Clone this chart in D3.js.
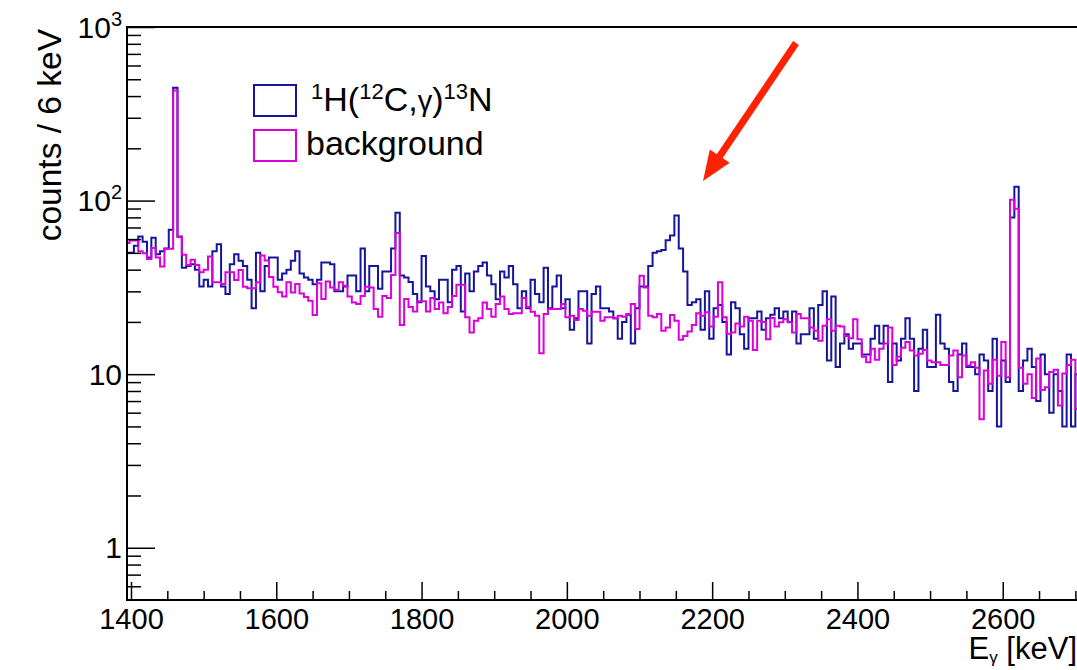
<!DOCTYPE html>
<html>
<head>
<meta charset="utf-8">
<script src="https://cdn.jsdelivr.net/npm/d3@7"></script>
<style>
  body { margin: 0; background: #fff; }
  svg { display: block; }
  text { font-family: "Liberation Sans", Arial, Helvetica, sans-serif; fill: #000; }
</style>
</head>
<body>
<svg id="chart" width="1077" height="670"></svg>
<script>
// Gamma spectrum, 6 keV bins; first bin starts at 1392 keV
const binWidth = 6;
const firstBinLow = 1392;

// 1H(12C,gamma)13N run, counts per bin
const signalCounts = [
  50,50,55,62,58,47,61,49,51,53,68,446,62,41,42,43,40,32,35,32,51,56,32,29,43,49,45,42,35,24,50,30,42,47,47,35,38,
  40,45,51,38,36,35,33,35,44,44,43,30,30,32,37,37,30,53,30,42,42,31,39,39,53,85,37,36,34,29,26,48,32,30,27,35,35,26,40,
  42,23,38,30,39,42,44,37,33,27,39,36,42,33,24,30,24,35,29,26,41,24,32,37,24,27,18,21,30,30,15,29,32,24,24,23,21,16,
  20,22,15,24,32,32,42,50,51,52,59,63,82,53,39,25,26,27,18,30,16,24,25,20,13,26,24,17,14,21,21,23,18,21,22,24,21,23,
  20,23,15,17,17,24,16,25,30,12,28,11,15,17,14,15,15,13,13,16,19,15,19,9,15,12,16,21,16,8,14,18,11,11,22,15,14,
  9,8,13,15,11,11,10,13,12,8,16,5,12,9,80,120,8,12,14,11,7,13,10,6,10,8,5,13,5,10
];

// Background run, same binning
const backgroundCounts = [
  57,58.8,58.8,51,49.7,46,53.4,47,41.7,52.7,52.7,430,61.6,48.8,42.5,45.6,42.5,38.6,40,47.7,33.8,33.8,33.1,38.6,38.6,34.9,39.8,31.9,31.3,31.3,33.8,48.2,45.1,36.3,31.9,29.6,28,
  33.8,29.5,33.1,29.2,27.8,26.5,21.9,33.4,27.1,34.2,31.6,30.6,33.8,32.3,28,25.9,25.4,28.2,31.9,31.6,23.7,21.4,28.2,27.5,37.3,65,19.2,27.1,24.4,23,26.3,26.3,23,27.5,23.7,25.9,22.4,24.4,28.2,
  32.7,32.7,21.3,17.4,20.3,21,25.9,23.7,21.4,25.4,28,23.7,22.2,22.4,22.4,27.5,24.4,22.9,21.7,13.2,22.2,23.7,23.7,23.7,25.4,21.3,21.7,20.5,23.7,23.2,21.7,22.9,22.9,20.3,21.3,21.3,21,21.7,
  21.4,22.2,25.4,18.2,36.9,31.6,21.7,21.3,22.2,17.8,18.6,21.9,20.3,15.8,16.6,17.6,19.2,22.4,21.7,22.7,18.8,21.4,33.8,21.3,17.1,17.4,19.6,18.8,21.4,20.3,13.8,20.3,20,15.9,21.1,18.8,19.9,20.7,
  19.9,17.4,22.2,21,21,18.6,17.8,15.6,19,20.7,17.8,19,18.8,16.6,16.1,20.7,15.9,12.6,11.7,14,12.1,14,15,18.6,11.3,12.6,14.2,15.3,13.7,12.8,13.1,13.8,12,11.7,11.7,11.3,11.3,
  12.8,13.7,9.6,12.8,11.2,11.7,10.9,5.5,10.5,8.8,12.1,9.8,15.3,9.6,101,89.6,10.9,8.8,10,7.3,12.3,8.1,8.4,10.3,10.6,6.6,10.1,11.3,12.1,6.3
];

// Axis ticks and labels
const xMajorTicks = [1400, 1600, 1800, 2000, 2200, 2400, 2600];
const xMinorStep = 50;
const yMajorTicks = [1, 10, 100, 1000];
const yTickBases = ["1", "10", "10", "10"];
const yTickExponents = ["", "", "2", "3"];
const xTitle = ["E", "\u03b3", " [keV]"];
const yTitle = "counts / 6 keV";

const legendEntries = ["signal", "background"];
const seriesColors = { signal: "#16169c", background: "#dc00dc" };

// ---------------------------------------------------------------
const svg = d3.select("#chart");
const frame = { left: 127, top: 27, right: 1079, bottom: 600 };

const x = d3.scaleLinear().domain([1394.5, 2705]).range([frame.left, frame.right]);
const y = d3.scaleLog().domain([0.5, 1000]).range([frame.bottom, frame.top]);

svg.append("defs").append("clipPath").attr("id", "plotClip")
  .append("rect")
  .attr("x", frame.left).attr("y", frame.top)
  .attr("width", frame.right - frame.left).attr("height", frame.bottom - frame.top);

// step outline of a histogram
function stepPoints(counts) {
  const pts = [];
  counts.forEach((c, i) => {
    const lo = firstBinLow + i * binWidth;
    pts.push([lo, c], [lo + binWidth, c]);
  });
  return pts;
}
const line = d3.line().x(d => x(d[0])).y(d => y(d[1]));

const plot = svg.append("g").attr("clip-path", "url(#plotClip)");
plot.append("path")
  .attr("d", line(stepPoints(signalCounts)))
  .attr("fill", "none").attr("stroke", seriesColors.signal)
  .attr("stroke-width", 2).attr("stroke-linejoin", "miter");
plot.append("path")
  .attr("d", line(stepPoints(backgroundCounts)))
  .attr("fill", "none").attr("stroke", seriesColors.background)
  .attr("stroke-width", 2).attr("stroke-linejoin", "miter");

// x axis: major and minor ticks pointing into the frame
const xMinorTicks = d3.range(1400, 2701, xMinorStep).filter(v => !xMajorTicks.includes(v));
const xAxisG = svg.append("g").attr("transform", `translate(0,${frame.bottom})`);
xAxisG.call(d3.axisBottom(x).tickValues(xMajorTicks).tickSize(-18).tickPadding(8).tickFormat(d3.format("d")));
const xMinorG = svg.append("g").attr("transform", `translate(0,${frame.bottom})`);
xMinorG.call(d3.axisBottom(x).tickValues(xMinorTicks).tickSize(-9).tickFormat(""));

// y axis: decades plus 2..9 sub-ticks
const yMinorTicks = [];
[0.1, 1, 10, 100].forEach(dec => { for (let k = 2; k <= 9; k++) { const v = dec * k; if (v > 0.5 && v < 1000) yMinorTicks.push(v); } });
const yAxisG = svg.append("g").attr("transform", `translate(${frame.left},0)`);
yAxisG.call(d3.axisLeft(y).tickValues(yMajorTicks).tickSize(-28).tickFormat(""));
const yMinorG = svg.append("g").attr("transform", `translate(${frame.left},0)`);
yMinorG.call(d3.axisLeft(y).tickValues(yMinorTicks).tickSize(-14).tickFormat(""));

[xAxisG, xMinorG, yAxisG, yMinorG].forEach(g => {
  g.select(".domain").remove();
  g.selectAll(".tick line").attr("stroke", "#000").attr("stroke-width", 1.5);
});
xAxisG.selectAll(".tick text")
  .attr("font-size", 29).attr("font-family", "Liberation Sans, Arial, sans-serif").attr("fill", "#000");

// y tick labels with exponents
yMajorTicks.forEach((v, i) => {
  const t = svg.append("text")
    .attr("x", 122).attr("y", y(v) + 10.5)
    .attr("text-anchor", "end").attr("font-size", 30);
  t.append("tspan").text(yTickBases[i]);
  if (yTickExponents[i]) {
    t.append("tspan").attr("dy", -12).attr("font-size", 20).text(yTickExponents[i]);
  }
});

// frame
svg.append("rect")
  .attr("x", frame.left).attr("y", frame.top)
  .attr("width", frame.right - frame.left).attr("height", frame.bottom - frame.top)
  .attr("fill", "none").attr("stroke", "#000").attr("stroke-width", 2);

// axis titles
const xt = svg.append("text").attr("x", 1077).attr("y", 659)
  .attr("text-anchor", "end").attr("font-size", 31);
xt.append("tspan").text(xTitle[0]);
xt.append("tspan").attr("dy", 4).attr("font-size", 17).text(xTitle[1]);
xt.append("tspan").attr("dy", -4).text(xTitle[2]);

svg.append("text")
  .attr("transform", "translate(61,29) rotate(-90)")
  .attr("text-anchor", "end").attr("font-size", 33.5)
  .text(yTitle);

// legend
const legend = svg.append("g");
const legendBoxes = [{ key: legendEntries[0], y: 85 }, { key: legendEntries[1], y: 130 }];
legendBoxes.forEach(b => {
  legend.append("rect")
    .attr("x", 254).attr("y", b.y).attr("width", 42).attr("height", 31)
    .attr("fill", "none").attr("stroke", seriesColors[b.key]).attr("stroke-width", 2);
});
const sig = legend.append("text").attr("x", 311).attr("y", 111).attr("font-size", 34);
sig.append("tspan").attr("dy", -12).attr("font-size", 22).text("1");
sig.append("tspan").attr("dy", 12).text("H(");
sig.append("tspan").attr("dy", -12).attr("font-size", 22).text("12");
sig.append("tspan").attr("dy", 12).text("C,");
sig.append("tspan").attr("font-size", 29).text("\u03b3");
sig.append("tspan").text(")");
sig.append("tspan").attr("dy", -12).attr("font-size", 22).text("13");
sig.append("tspan").attr("dy", 12).text("N");
legend.append("text").attr("x", 306).attr("y", 155).attr("font-size", 34).text("background");

// arrow pointing at the 2.2 MeV region
const arrowTail = [796, 43], arrowTip = [703, 181];
const dx = arrowTip[0] - arrowTail[0], dy = arrowTip[1] - arrowTail[1];
const len = Math.hypot(dx, dy), ux = dx / len, uy = dy / len;
const headLen = 30, headHalf = 12;
const base = [arrowTip[0] - ux * headLen, arrowTip[1] - uy * headLen];
svg.append("line")
  .attr("x1", arrowTail[0]).attr("y1", arrowTail[1])
  .attr("x2", base[0] + ux * 2).attr("y2", base[1] + uy * 2)
  .attr("stroke", "#ff2200").attr("stroke-width", 7);
svg.append("polygon")
  .attr("points", [
    arrowTip,
    [base[0] - uy * headHalf, base[1] + ux * headHalf],
    [base[0] + uy * headHalf, base[1] - ux * headHalf]
  ].map(p => p.join(",")).join(" "))
  .attr("fill", "#ff2200");
</script>
</body>
</html>
